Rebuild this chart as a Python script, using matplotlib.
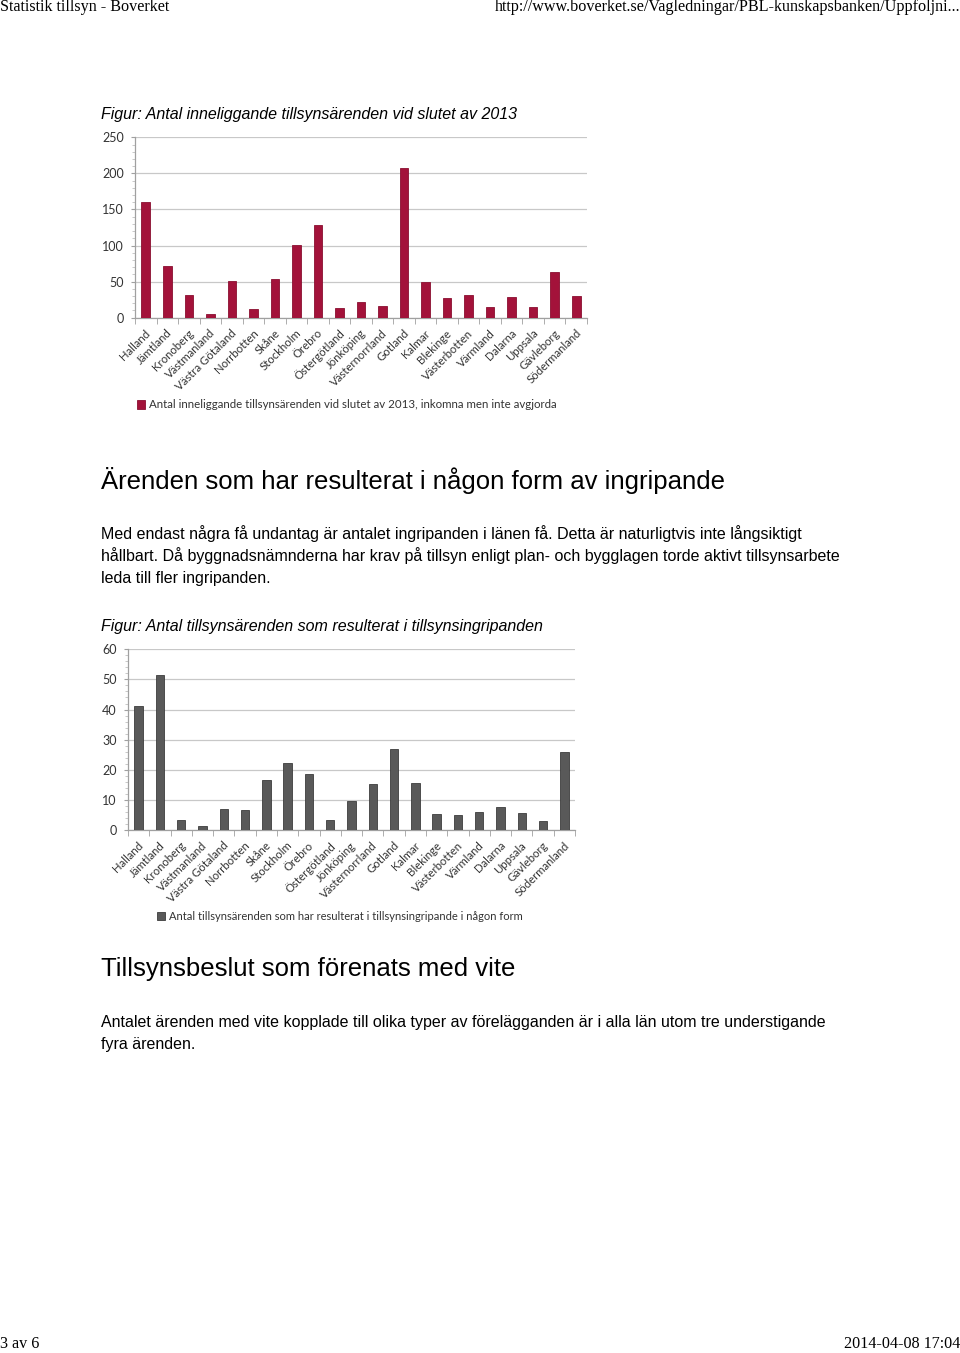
import matplotlib
matplotlib.use("Agg")
import matplotlib.pyplot as plt
from matplotlib.ticker import MultipleLocator
import matplotlib.transforms as mtransforms

W, H = 960, 1353

regions = ["Halland", "Jämtland", "Kronoberg", "Västmanland", "Västra Götaland",
           "Norrbotten", "Skåne", "Stockholm", "Örebro", "Östergötland", "Jönköping",
           "Västernorrland", "Gotland", "Kalmar", "Blekinge", "Västerbotten",
           "Värmland", "Dalarna", "Uppsala", "Gävleborg", "Södermanland"]

inneliggande = [161, 71, 32, 5, 51, 12, 54, 101, 129, 13, 22, 16, 207, 49, 27,
                31, 15, 28, 15, 63, 30]

ingripanden = [41.3, 51.6, 3.4, 1.3, 6.9, 6.5, 16.7, 22.4, 18.7, 3.4, 9.5, 15.3,
               27.0, 15.7, 5.3, 5.0, 5.9, 7.6, 5.5, 3.0, 25.8]

legend1 = "Antal inneliggande tillsynsärenden vid slutet av 2013, inkomna men inte avgjorda"
legend2 = "Antal tillsynsärenden som har resulterat i tillsynsingripande i någon form"

fig = plt.figure(figsize=(W / 100, H / 100), dpi=100)
fig.patch.set_facecolor("white")

SANS = ["Liberation Sans", "DejaVu Sans"]
SERIF = ["Liberation Serif", "DejaVu Serif"]
CHART = ["Lato", "DejaVu Sans"]


def fx(x):
    return x / W


def fy(y):
    return 1 - y / H


def txt(x, y, s, size, family=SANS, style="normal", ha="left", color="black"):
    return fig.text(fx(x), fy(y), s, fontsize=size, family=family, style=style,
                    ha=ha, va="center", color=color)


# page header / footer
txt(0, 7, "Statistik tillsyn - Boverket", 11.6, SERIF)
txt(960, 7, "http://www.boverket.se/Vagledningar/PBL-kunskapsbanken/Uppfoljni...", 11.6, SERIF, ha="right")
txt(0, 1344, "3 av 6", 11.6, SERIF)
txt(960, 1344, "2014-04-08 17:04", 11.6, SERIF, ha="right")

# captions, headings, body text
BODY = 11.55
txt(101, 115, "Figur: Antal inneliggande tillsynsärenden vid slutet av 2013", BODY, style="italic")
txt(101, 480, "Ärenden som har resulterat i någon form av ingripande", 18.5)
body1 = ["Med endast några få undantag är antalet ingripanden i länen få. Detta är naturligtvis inte långsiktigt",
         "hållbart. Då byggnadsnämnderna har krav på tillsyn enligt plan- och bygglagen torde aktivt tillsynsarbete",
         "leda till fler ingripanden."]
for i, line in enumerate(body1):
    txt(101, 534 + 22 * i, line, BODY)
txt(101, 627, "Figur: Antal tillsynsärenden som resulterat i tillsynsingripanden", BODY, style="italic")
txt(101, 969, "Tillsynsbeslut som förenats med vite", 18.5)
body2 = ["Antalet ärenden med vite kopplade till olika typer av förelägganden är i alla län utom tre understigande",
         "fyra ärenden."]
for i, line in enumerate(body2):
    txt(101, 1022 + 22 * i, line, BODY)


def make_chart(left, right, top, bottom, values, ymax, ystep, minor, color, edge,
               legend_text, leg_x, leg_y, leg_size):
    ax = fig.add_axes([fx(left), fy(bottom), (right - left) / W, (bottom - top) / H])
    x = list(range(len(values)))
    bars = ax.bar(x, values, width=0.4, color=color, edgecolor=edge, linewidth=0.6,
                  zorder=3, label=legend_text)
    ax.set_xlim(-0.5, len(values) - 0.5)
    ax.set_ylim(0, ymax)
    ax.yaxis.set_major_locator(MultipleLocator(ystep))
    ax.yaxis.set_minor_locator(MultipleLocator(minor))
    ax.grid(axis="y", which="major", color="#c8c8c8", linewidth=0.9, zorder=0)
    for s in ["top", "right"]:
        ax.spines[s].set_visible(False)
    for s in ["left", "bottom"]:
        ax.spines[s].set_color("#a0a0a0")
        ax.spines[s].set_linewidth(0.9)
    ax.tick_params(axis="y", which="major", length=3, color="#a0a0a0", labelsize=9,
                   labelcolor="#333333", pad=5)
    ax.tick_params(axis="y", which="minor", length=2, color="#c0c0c0")
    ax.set_xticks([i - 0.5 for i in range(len(values) + 1)], minor=True)
    ax.set_xticks(x)
    ax.tick_params(axis="x", which="minor", length=4, color="#a0a0a0")
    ax.tick_params(axis="x", which="major", length=0, labelsize=8.2, labelcolor="#333333", pad=2)
    for lab in ax.get_yticklabels():
        lab.set_family(CHART)
    ax.set_xticklabels(regions, rotation=45, ha="right", rotation_mode="anchor", family=CHART)
    offset = mtransforms.ScaledTranslation(-1 / 100, -7 / 100, fig.dpi_scale_trans)
    for lab in ax.get_xticklabels():
        lab.set_transform(lab.get_transform() + offset)
    fig.legend(handles=[bars], labels=[legend_text], loc="center left",
               bbox_to_anchor=(fx(leg_x), fy(leg_y)), frameon=False,
               handlelength=0.7, handleheight=0.7, handletextpad=0.35,
               borderpad=0, borderaxespad=0,
               prop={"family": CHART, "size": leg_size}, labelcolor="#333333")
    return ax


make_chart(135, 587, 137.3, 317.7, inneliggande, 250, 50, 10, "#a3123a", "#8a0f30",
           legend1, 137, 405, 8.3)
make_chart(128, 575, 649.3, 830, ingripanden, 60, 10, 2, "#595959", "#3c3c3c",
           legend2, 157, 916, 8.05)

fig.savefig("out.png", dpi=100, facecolor="white")
